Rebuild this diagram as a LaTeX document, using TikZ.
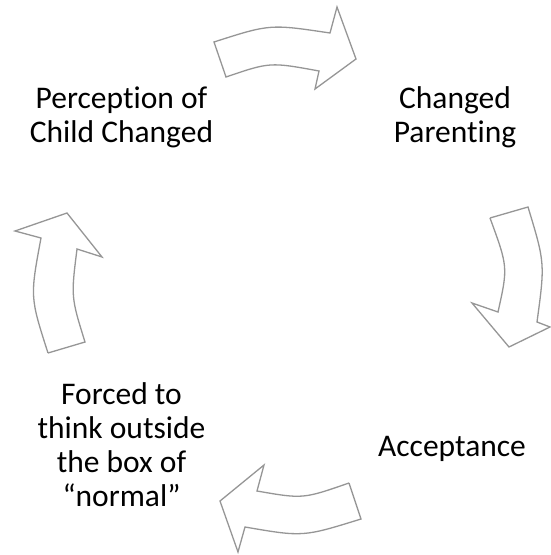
\documentclass[tikz,border=0pt]{standalone}
\usepackage{fontspec}
\setmainfont[Ligatures={NoCommon}]{Carlito}
\definecolor{arrowgray}{RGB}{150,150,150}
\begin{document}
\begin{tikzpicture}[x=1pt,y=-1pt,
  label/.style={align=center,inner sep=0pt,font=\fontsize{31.5}{34}\selectfont,text=black},
  blockarrow/.style={draw=arrowgray,line width=1.3pt,fill=white,line join=miter}]
\useasboundingbox (0,0) rectangle (550,555);
% block arrows
\draw[blockarrow] (214,42) .. controls (270,24) .. (330,33) -- (337,7) -- (356,59) -- (315,89) -- (319,71) .. controls (270,62) .. (226,77) -- cycle;
\draw[blockarrow] (490,218) -- (528,207) .. controls (545,263) .. (537,322) -- (550,327) -- (509,347) -- (472,303) -- (498,312) .. controls (508,267) .. (490,218);
\draw[blockarrow] (349,483) -- (361,519) .. controls (303,537) .. (245,527) -- (238,552) -- (220,501) -- (264,465) -- (257,491) .. controls (303,499) .. (349,483);
\draw[blockarrow] (48,353) -- (85,342) .. controls (71,297) .. (77,249) -- (102,257) -- (67,213) -- (15,231) -- (41,238) .. controls (30,297) .. (48,353);
% labels
\node[label] (perc) at (121.5,117) {Perception of\\Child Changed};
\node[label] (chpar) at (455,117) {Changed\\Parenting};
\node[label,anchor=base] (accept) at (452,456) {Acceptance};
\node[label] (forced) at (121.5,445) {Forced to\\think outside\\the box of\\“normal”};
\end{tikzpicture}
\end{document}
